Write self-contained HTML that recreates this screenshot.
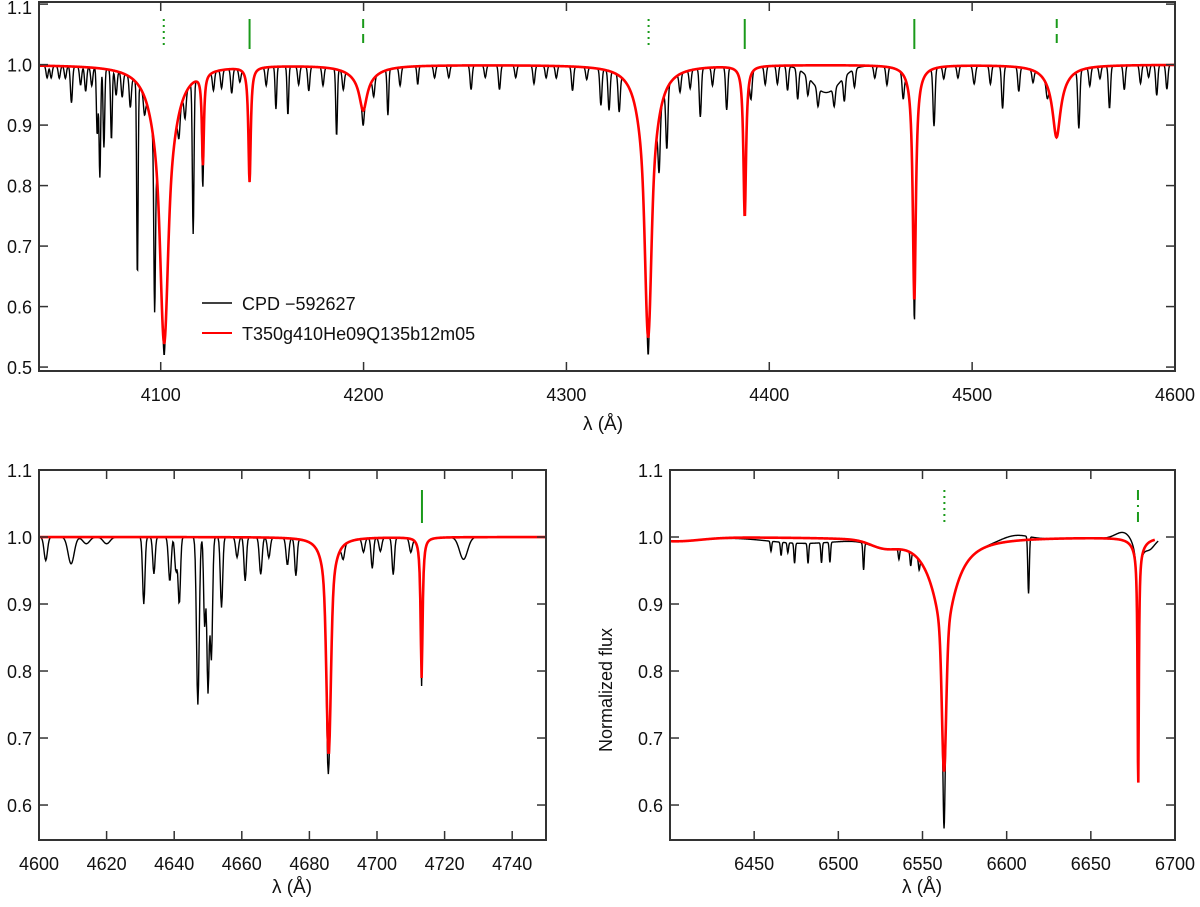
<!DOCTYPE html>
<html><head><meta charset="utf-8"><style>
html,body{margin:0;padding:0;background:#fff;}
svg{display:block;font-family:"Liberation Sans","DejaVu Sans",sans-serif;}
</style></head><body>
<svg id="chart" width="1200" height="907" viewBox="0 0 1200 907"></svg>
<script>
// ---------- DATA ----------
const topModelCenters = [4101.7,4101.7,4120.8,4143.8,4199.8,4199.8,4340.3,4340.3,4387.9,4471.5,4471.5,4541.6,4541.6];
const topModelDepths  = [0.19,0.27,0.15,0.19,0.055,0.02,0.2,0.25,0.25,0.37,0.02,0.09,0.03];
const topModelWidths  = [1.5,4.8,0.6,0.7,2.2,8,1.3,4,0.8,0.9,4,2.2,6];
const topModelKinds   = [0,1,1,1,1,1,0,1,1,1,1,1,1];
const topObsCenters = [4044,4046,4050,4053,4056,4060.5,4063,4066,4068.7,4070,4072,4075.7,4078,4081,4085,4088.5,4092,4097,4101.7,4109,4112,4116,4120.6,4126,4130,4135,4139,4152,4156.8,4162.7,4168,4173,4180,4186.7,4190,4199.8,4205,4212,4218,4226.7,4235,4242,4253,4260,4267,4275,4284,4290,4295,4303,4310,4317,4321,4326,4340.3,4345.7,4349.5,4356,4361,4366,4372,4379,4391,4398,4404,4409,4414,4419,4424,4428,4432,4437,4442,4452,4458,4466,4471.6,4481.2,4486,4493,4501,4509,4515,4523,4530,4537,4552.6,4558,4563,4567.7,4575,4583,4587,4591,4596];
const topObsDepths  = [0.02,0.02,0.02,0.02,0.06,0.03,0.04,0.03,0.11,0.18,0.13,0.115,0.04,0.04,0.05,0.32,0.03,0.27,0.02,0.04,0.04,0.25,0.04,0.03,0.03,0.04,0.02,0.03,0.07,0.08,0.03,0.04,0.03,0.11,0.03,0.025,0.03,0.075,0.03,0.03,0.02,0.02,0.04,0.02,0.04,0.02,0.03,0.02,0.02,0.04,0.02,0.06,0.065,0.06,0.03,0.09,0.1,0.03,0.03,0.08,0.03,0.07,0.04,0.03,0.03,0.04,0.05,0.03,0.03,0.045,0.03,0.04,0.03,0.02,0.03,0.04,0.035,0.095,0.02,0.02,0.03,0.03,0.07,0.04,0.02,0.02,0.095,0.03,0.02,0.07,0.04,0.03,0.02,0.05,0.04];
const topObsWidths  = [0.5,0.5,0.5,0.5,0.5,0.5,0.5,0.5,0.4,0.4,0.4,0.4,0.5,0.5,0.5,0.35,0.5,0.4,0.3,0.5,0.5,0.4,0.4,0.5,0.5,0.5,0.5,0.5,0.4,0.4,0.5,0.5,0.5,0.4,0.5,0.4,0.5,0.4,0.5,0.4,0.5,0.5,0.5,0.5,0.5,0.5,0.5,0.5,0.5,0.5,0.5,0.5,0.5,0.5,0.3,0.5,0.5,0.5,0.5,0.5,0.5,0.5,0.5,0.5,0.5,0.5,0.5,0.5,0.5,7,0.5,0.5,0.5,0.5,0.5,0.5,0.3,0.5,0.5,0.5,0.6,0.5,0.5,0.5,0.5,0.5,0.5,0.5,0.5,0.5,0.5,0.5,0.5,0.5,0.5];

const leftModelCenters = [4685.7,4685.7,4713.2];
const leftModelDepths  = [0.2,0.125,0.21];
const leftModelWidths  = [0.6,1.5,0.35];
const leftModelKinds   = [0,1,1];
const leftObsCenters = [4602,4609.5,4614,4620,4631,4634,4638.7,4640.5,4641.5,4647,4649,4650,4651,4654,4658.6,4661,4665.6,4668,4673.5,4676,4685.4,4690,4696,4698.6,4701,4704.8,4710,4713,4725.6];
const leftObsDepths  = [0.035,0.04,0.01,0.01,0.1,0.055,0.066,0.05,0.1,0.25,0.13,0.23,0.18,0.105,0.03,0.065,0.055,0.03,0.04,0.055,0.04,0.02,0.02,0.045,0.02,0.055,0.02,0.015,0.033];
const leftObsWidths  = [0.5,0.9,1,1,0.35,0.35,0.4,0.35,0.35,0.4,0.3,0.35,0.35,0.35,0.4,0.35,0.4,0.4,0.4,0.35,0.3,0.4,0.4,0.35,0.4,0.35,0.4,0.3,1.2];

const rightModelCenters = [6403,6527,6562.8,6562.8,6562.8,6678.15,6678.15];
const rightModelDepths  = [0.006,0.01,0.18,0.07,0.1,0.35,0.02];
const rightModelWidths  = [15,8,1.2,3,10,0.45,4];
const rightModelKinds   = [0,0,0,1,1,1,1];
const rightObsCenters = [6460,6466,6470,6474,6478,6482,6490,6495,6515,6536,6543,6548,6562.8,6605,6613,6670,6685];
const rightObsDepths  = [0.015,0.02,0.015,0.03,0.008,0.03,0.03,0.03,0.04,0.015,0.02,0.015,0.085,-0.008,0.085,-0.012,0.012];
const rightObsWidths  = [0.4,0.4,0.4,0.4,20,0.4,0.4,0.4,0.4,0.4,0.4,0.4,0.5,8,0.45,5,3];

const topXTicks = [4100,4200,4300,4400,4500,4600];
const topYTicks = [0.5,0.6,0.7,0.8,0.9,1.0,1.1];
const leftXTicks = [4600,4620,4640,4660,4680,4700,4720,4740];
const rightXTicks = [6450,6500,6550,6600,6650,6700];
const botYTicks = [0.6,0.7,0.8,0.9,1.0,1.1];

const topMarkers = [4101.5,4143.8,4199.8,4340.5,4387.9,4471.5,4541.7];
const topMarkerStyles = ['dot','solid','dash','dot','solid','solid','dash'];
const leftMarkers = [4713.3];
const leftMarkerStyles = ['solid'];
const rightMarkers = [6563,6678];
const rightMarkerStyles = ['dot','dashdot'];

// ---------- RENDER ----------
const NS='http://www.w3.org/2000/svg';
const svg=document.getElementById('chart');
function mk(tag,attrs,parent){const e=document.createElementNS(NS,tag);for(const k in attrs)e.setAttribute(k,attrs[k]);(parent||svg).appendChild(e);return e;}

function profile(l,cs,ds,ws,ks){
  let f=1;
  for(let i=0;i<cs.length;i++){
    const u=(l-cs[i])/ws[i];
    const k=ks?ks[i]:0;
    f-= ds[i]*(k===1?1/(1+u*u):Math.exp(-0.5*u*u));
  }
  return f;
}

const panels=[
 {name:'top',x0:39,x1:1175,y0:2,y1:371,lmin:4040,lmax:4600,fmin:0.4935,fmax:1.1035,
  xt:topXTicks,yt:topYTicks,mc:topModelCenters,md:topModelDepths,mw:topModelWidths,mk:topModelKinds,
  oc:topObsCenters,od:topObsDepths,ow:topObsWidths,mrk:topMarkers,ms:topMarkerStyles,my:[19,49],
  oStart:4040,oEnd:4600,rStart:4040,rEnd:4600,xlab:[603,430]},
 {name:'bottom-left',x0:39,x1:546,y0:470,y1:840,lmin:4600,lmax:4750,fmin:0.5478,fmax:1.1,
  xt:leftXTicks,yt:botYTicks,mc:leftModelCenters,md:leftModelDepths,mw:leftModelWidths,mk:leftModelKinds,
  oc:leftObsCenters,od:leftObsDepths,ow:leftObsWidths,mrk:leftMarkers,ms:leftMarkerStyles,my:[490,523],
  oStart:4600,oEnd:4750,rStart:4600,rEnd:4750,xlab:[292,893]},
 {name:'bottom-right',x0:670,x1:1175,y0:470,y1:840,lmin:6400,lmax:6700,fmin:0.5478,fmax:1.1,
  xt:rightXTicks,yt:botYTicks,mc:rightModelCenters,md:rightModelDepths,mw:rightModelWidths,mk:rightModelKinds,
  oc:rightObsCenters,od:rightObsDepths,ow:rightObsWidths,mrk:rightMarkers,ms:rightMarkerStyles,my:[490,524],
  oStart:6400,oEnd:6690,rStart:6400,rEnd:6688,xlab:[922,893]}
];

panels.forEach(p=>{
  const g=mk('g',{});
  
  
  const X=l=>p.x0+(l-p.lmin)/(p.lmax-p.lmin)*(p.x1-p.x0);
  const Y=f=>p.y1-(f-p.fmin)/(p.fmax-p.fmin)*(p.y1-p.y0);
  const clip='clip-'+p.name;
  const cp=mk('clipPath',{id:clip},g);
  mk('rect',{x:p.x0,y:p.y0,width:p.x1-p.x0,height:p.y1-p.y0},cp);
  let d='';
  for(let l=p.oStart;l<=p.oEnd;l+=0.2){
    const f=profile(l,p.mc,p.md,p.mw,p.mk)+profile(l,p.oc,p.od,p.ow)-1;
    d+=(d?'L':'M')+X(l).toFixed(2)+','+Y(f).toFixed(2);
  }
  const obs=mk('path',{d:d,fill:'none',stroke:'#000','stroke-width':1.4,'clip-path':'url(#'+clip+')'},g);
  
  
  d='';
  for(let l=p.rStart;l<=p.rEnd;l+=0.2){
    const f=profile(l,p.mc,p.md,p.mw,p.mk);
    d+=(d?'L':'M')+X(l).toFixed(2)+','+Y(f).toFixed(2);
  }
  const mod=mk('path',{d:d,fill:'none',stroke:'#f00','stroke-width':2.6,'clip-path':'url(#'+clip+')'},g);
  
  
  p.mrk.forEach((m,i)=>{
    const st=p.ms[i];
    const da=st==='dot'?'2,4':st==='dash'?'9,6':st==='dashdot'?'10,5,2,5':'none';
    const ln=mk('line',{x1:X(m),x2:X(m),y1:p.my[0],y2:p.my[1],stroke:'#1a9a1a','stroke-width':2,'stroke-dasharray':da},g);
    
    
  });
  const fr=mk('rect',{x:p.x0,y:p.y0,width:p.x1-p.x0,height:p.y1-p.y0,fill:'none',stroke:'#333','stroke-width':2},g);
  
  
  p.xt.forEach(t=>{
    const x=X(t);
    mk('line',{x1:x,x2:x,y1:p.y1,y2:p.y1-9,stroke:'#333','stroke-width':1.5},g);
    mk('line',{x1:x,x2:x,y1:p.y0,y2:p.y0+9,stroke:'#333','stroke-width':1.5},g);
    const tx=mk('text',{x:x,y:p.y1+30,'text-anchor':'middle','font-size':18,fill:'#111'},g);
    tx.textContent=t;
    
    
  });
  p.yt.forEach(t=>{
    const y=Y(t);
    mk('line',{x1:p.x0,x2:p.x0+9,y1:y,y2:y,stroke:'#333','stroke-width':1.5},g);
    mk('line',{x1:p.x1,x2:p.x1-9,y1:y,y2:y,stroke:'#333','stroke-width':1.5},g);
    const tx=mk('text',{x:p.x0-7,y:Math.max(y+7,14),'text-anchor':'end','font-size':18,fill:'#111'},g);
    tx.textContent=t.toFixed(1);
    
    
  });
  const xl=mk('text',{x:p.xlab[0],y:p.xlab[1],'text-anchor':'middle','font-size':19,fill:'#111'},g);
  xl.textContent='λ (Å)';
  
  
});

const yt=mk('text',{x:0,y:0,transform:'translate(612,690) rotate(-90)','text-anchor':'middle','font-size':18,fill:'#111'});
yt.textContent='Normalized flux';



const lg=mk('g',{});


const e1=mk('line',{x1:202,x2:232,y1:303,y2:303,stroke:'#000','stroke-width':1.5},lg);


const t1=mk('text',{x:242,y:310,'font-size':18,fill:'#111'},lg);
t1.textContent='CPD −592627';


const e2=mk('line',{x1:202,x2:232,y1:333,y2:333,stroke:'#f00','stroke-width':2},lg);


const t2=mk('text',{x:242,y:340,'font-size':18,fill:'#111'},lg);
t2.textContent='T350g410He09Q135b12m05';


</script>
</body></html>
